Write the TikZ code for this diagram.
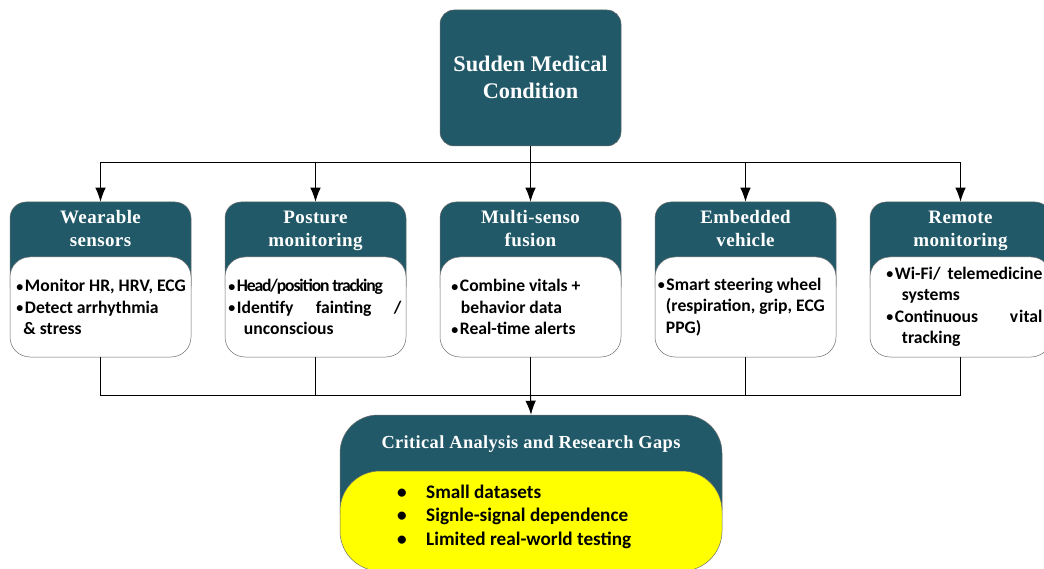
\documentclass[tikz,border=0pt]{standalone}
\usepackage{fontspec}
\setmainfont{Carlito}
\newfontfamily\headfont[LetterSpace=2]{Liberation Serif}
\newfontfamily\titlefont{Liberation Serif}
\usetikzlibrary{arrows.meta}
\definecolor{teal}{HTML}{215968}
\definecolor{edgegray}{HTML}{6E6E6E}
\definecolor{gapyellow}{HTML}{FFFF00}
\tikzset{
  darkbox/.style={draw=edgegray,line width=0.5pt,fill=teal,rounded corners=#1,inner sep=0pt},
  lightbox/.style={draw=edgegray,line width=0.5pt,fill=white,rounded corners=20pt,minimum width=181pt,minimum height=100pt,inner sep=0pt},
  headtext/.style={font=\headfont\bfseries\fontsize{19}{23}\selectfont,text=white,align=center,inner sep=0pt},
  bodytext/.style={font=\bfseries\fontsize{17.6}{21.5}\selectfont,text=black,align=left,inner sep=0pt},
  link/.style={draw=black,line width=1pt},
  arrowlink/.style={link,-{Latex[length=14pt,width=10.5pt]}}
}
\newcommand{\bl}{\makebox[8.5pt][l]{\raisebox{0.6pt}{\fontsize{14}{14}\selectfont\textbullet}}}
\newcommand{\gb}{\makebox[29pt][l]{\textbullet}}
\newcommand{\sensor}[5]{%
  \node[darkbox=16pt,minimum width=181pt,minimum height=100pt] (#1) at (#2,252) {};
  \node[headtext] (#1head) at (#2,230.5) {#3};
  \node[lightbox] (#1body) at (#2,307) {};
  \node[bodytext,anchor=west] (#1text) at ([xshift=#4pt]#1body.west) {#5};
}
\begin{document}
\begin{tikzpicture}[x=1pt,y=-1pt]
\useasboundingbox (0,0) rectangle (1044,569);
\clip (0,0) rectangle (1044,569);
\fill[white] (0,0) rectangle (1044,569);
% top box
\node[darkbox=14pt,minimum width=181pt,minimum height=136pt] (top) at (530.5,78) {};
\node[headtext,font=\titlefont\bfseries\fontsize{22.3}{27}\selectfont] (toptext) at (530.5,77.5) {Sudden Medical\\Condition};
% sensor boxes
\sensor{wear}{100.5}{Wearable\strut\\sensors\strut}{6.5}{\bl Monitor HR, HRV, ECG\\\bl Detect arrhythmia\\\hspace{7pt}\& stress}
\sensor{post}{315.5}{Posture\strut\\monitoring\strut}{3.5}{\bl{\addfontfeatures{LetterSpace=-6.5}Head/position tracking}\\\makebox[173pt][s]{\bl Identify\hfill fainting\hfill /}\\\hspace{15.5pt}unconscious}
\sensor{fuse}{530.5}{Multi-senso\strut\\fusion\strut}{11.5}{\bl Combine vitals +\\\hspace{9.5pt}behavior data\\\bl Real-time alerts}
\sensor{veh}{745.5}{Embedded\strut\\vehicle\strut}{3}{\bl Smart steering wheel\\\hspace{8pt}(respiration, grip, ECG\\\hspace{8pt}PPG)}
\sensor{rem}{960.5}{Remote\strut\\monitoring\strut}{16.5}{\makebox[156pt][s]{\bl Wi-Fi/\hfill telemedicine}\\\hspace{15.5pt}systems\\\makebox[156pt][s]{\bl Continuous\hfill v\kern1pt ital}\\\hspace{15.5pt}tracking}
% bottom box
\node[darkbox=38pt,minimum width=382pt,minimum height=133pt] (gap) at (531,481.5) {};
\node[headtext,font=\headfont\bfseries\fontsize{18.4}{21}\selectfont] (gaphead) at (531,444) {Critical Analysis and Research Gaps\strut};
\node[draw=edgegray,line width=0.5pt,fill=gapyellow,rounded corners=40pt,minimum width=382pt,minimum height=100pt,inner sep=0pt] (gapbody) at (531,521) {};
\node[bodytext,font=\bfseries\fontsize{19.2}{23.5}\selectfont,anchor=west] (gaptext) at (397,516.5) {\gb Small datasets\\\gb Signle-signal dependence\\\gb Limited real-world testing};
% connectors
\coordinate (topbus) at (530.5,163);
\coordinate (botbus) at (530.5,395);
\draw[link] (top.south) -- (topbus);
\foreach \n in {wear,post,fuse,veh,rem}{
  \draw[arrowlink] (topbus) -| (\n.north);
  \draw[link] (\n body.south) |- (botbus);
}
\draw[arrowlink] (botbus) -- (gap.north);
\end{tikzpicture}
\end{document}
